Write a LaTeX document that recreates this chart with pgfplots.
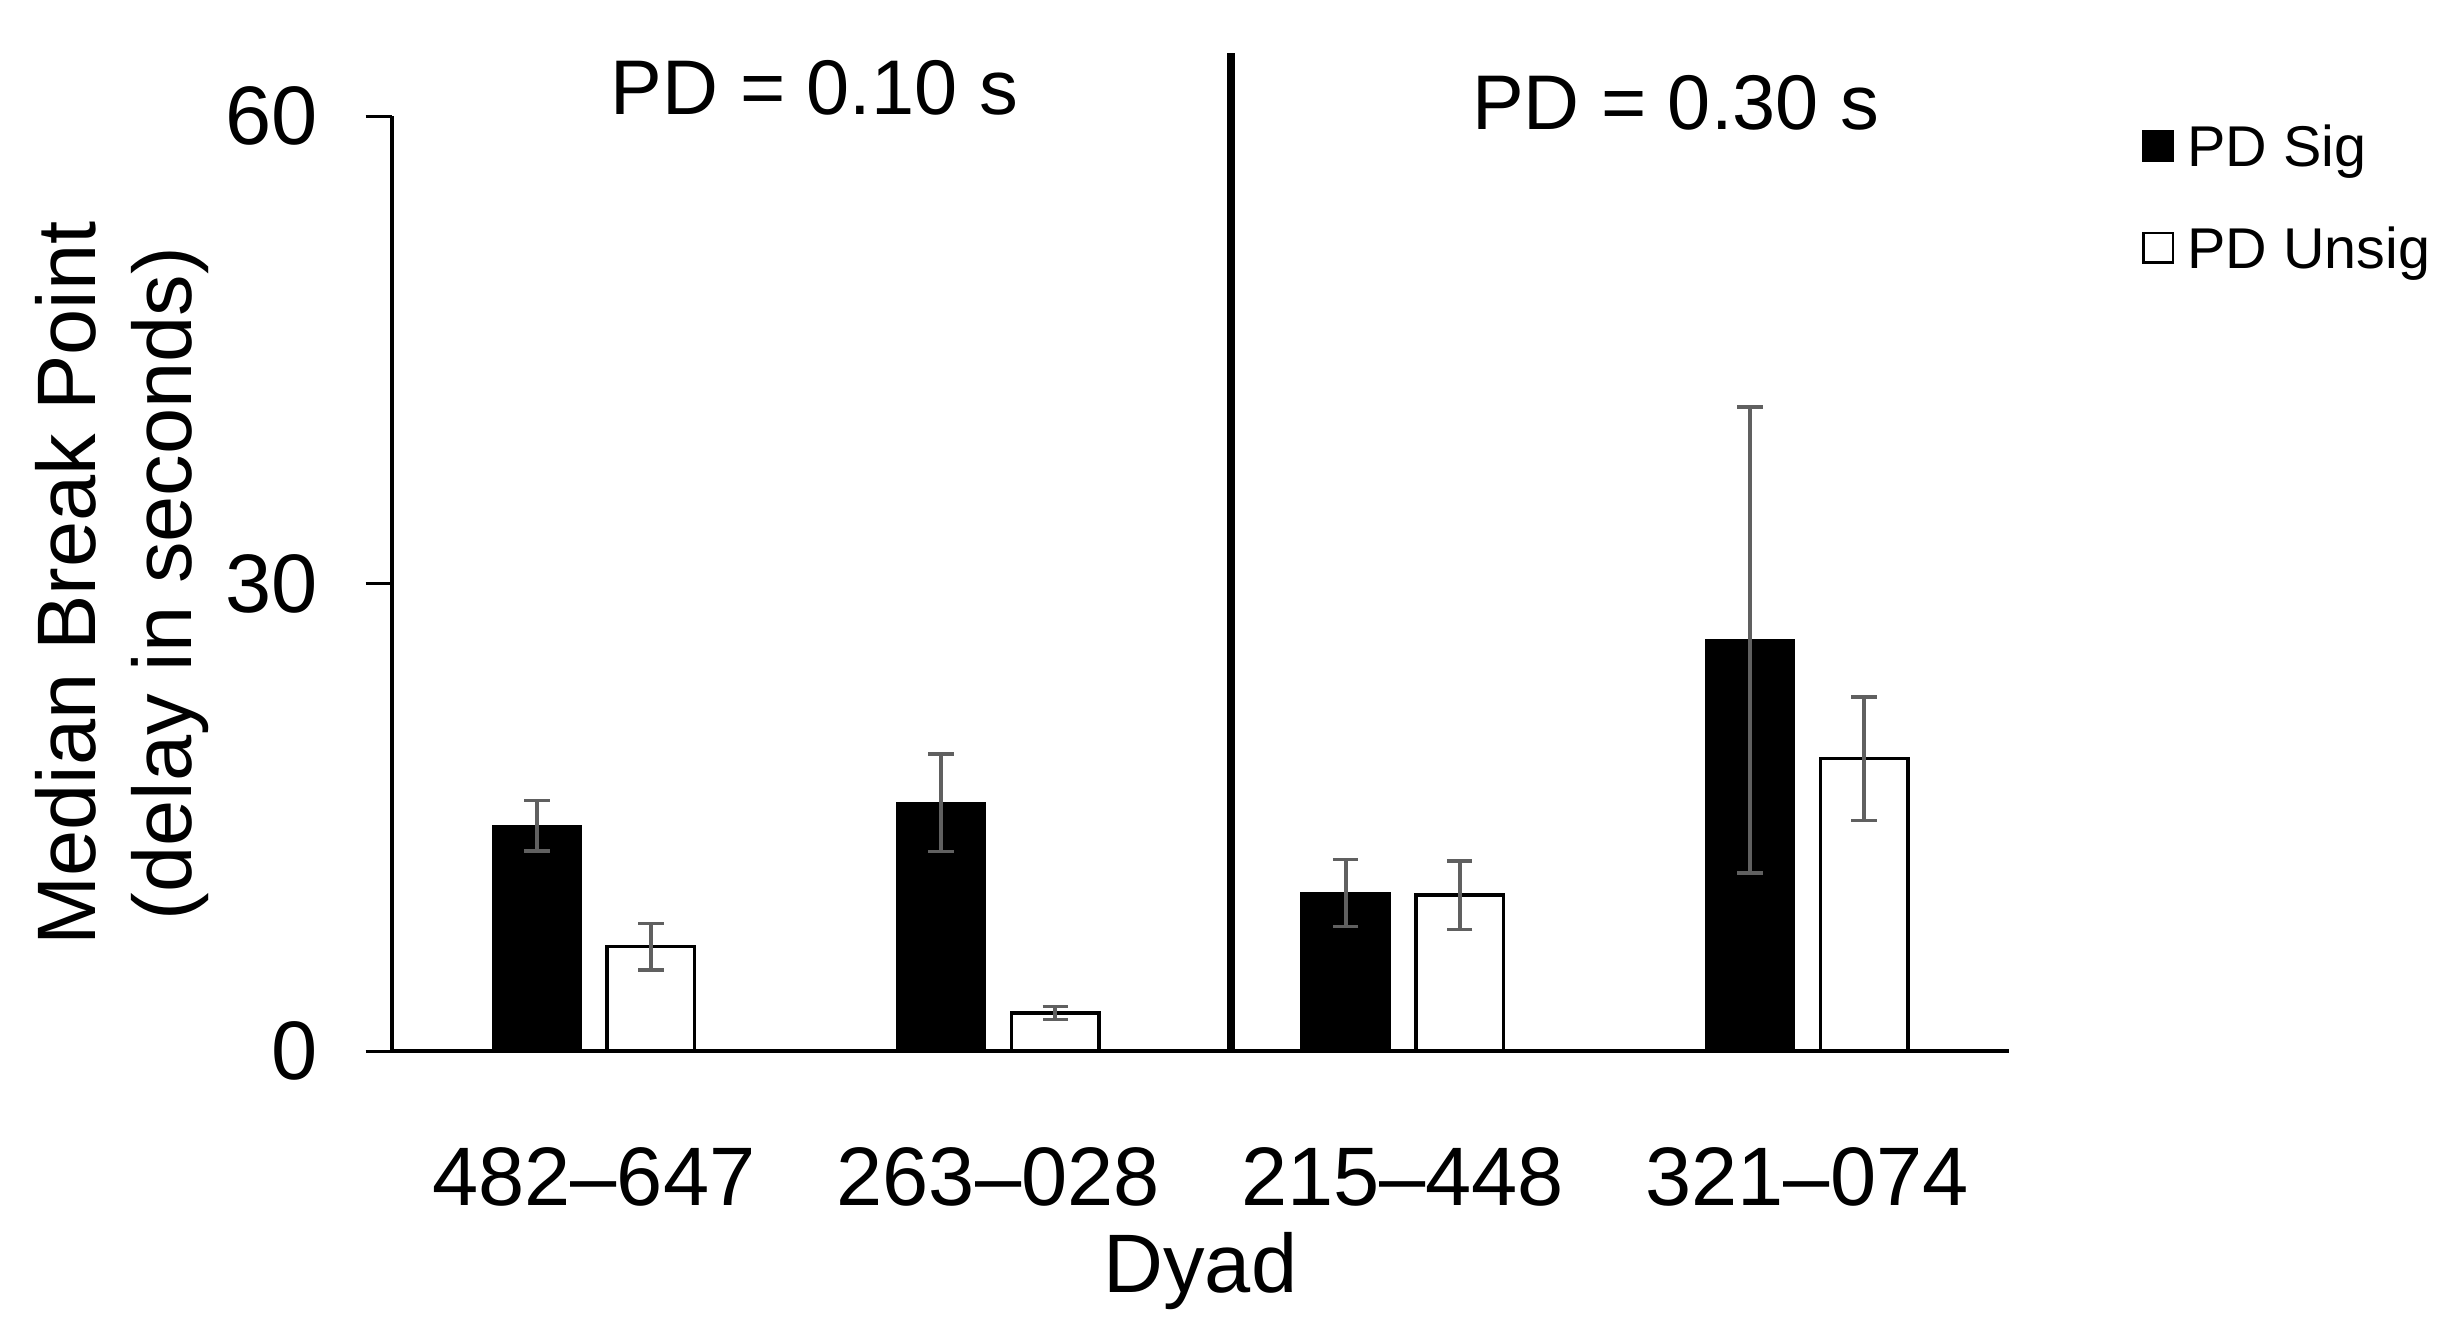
\documentclass[border=0pt]{standalone}
\usepackage{fontspec}
\setmainfont{Liberation Sans}
\usepackage{pgfplots}
\pgfplotsset{compat=1.18}
\definecolor{errgray}{RGB}{96,96,96}
\newcommand\mainsize{\fontsize{16.6}{19.3}\selectfont}
\pgfplotsset{
  errstyle/.style={
    error bars/.cd, y dir=both, y explicit,
    error bar style={line width=0.8pt, errgray},
    error mark options={rotate=90, mark size=2.55pt, line width=0.67pt, errgray}},
}
% Bars sit at category +/- 0.141 (two bars per dyad)
\begin{document}
\begin{tikzpicture}
\begin{axis}[
  at={(0,0)}, anchor=south west,
  scale only axis, width=323.5pt, height=187pt,
  xmin=0.5, xmax=4.5, ymin=0, ymax=60,
  clip=false,
  axis x line*=bottom, axis y line*=left,
  axis line style={-, line width=0.8pt, black},
  xtick={1,2,3,4},
  xticklabels={482–647, 263–028, 215–448, 321–074},
  x tick style={draw=none},
  ytick={0,30,60},
  y tick style={line width=0.6pt, black},
  tick align=outside, major tick length=5.2pt,
  /pgf/number format/assume math mode=true,
  tick label style={font=\mainsize},
  xticklabel style={anchor=base, inner sep=0pt, yshift=-25.66pt},
  yticklabel style={anchor=east, inner sep=0pt, xshift=-9.4pt},
  xlabel={Dyad},
  ylabel={Median Break Point\\(delay in seconds)},
  xlabel style={at={(axis description cs:0.5,0)}, anchor=base, inner sep=0pt, yshift=-48.3pt, font=\mainsize},
  ylabel style={at={(axis description cs:-0.1122,0.5)}, anchor=south, inner sep=0pt, align=center, font=\mainsize},
  legend style={at={(1.0821,0.9902)}, anchor=north west, draw=none, fill=none,
    inner sep=0pt, outer sep=0pt, font=\fontsize{11.5}{13}\selectfont,
    row sep=9.6pt, column sep=2.7pt,
    nodes={inner sep=0pt, text height=8.3pt, text depth=2.5pt}},
  legend cell align=left,
  legend image code/.code={\draw[#1, line width=0.5pt] (0pt,-1.7pt) rectangle (5.9pt,4.2pt);},
]
% PD Sig
\addplot[ybar, bar width=17.8pt, bar shift=0pt, fill=black, draw=black, line width=0.3pt, errstyle]
  coordinates {(0.859,14.46) +- (0,1.63) (1.859,15.92) +- (0,3.13) (2.859,10.15) +- (0,2.15) (3.859,26.37) +- (0,14.95)};
% PD Unsig
\addplot[ybar, bar width=17.5pt, bar shift=0pt, fill=white, draw=black, line width=0.7pt, errstyle]
  coordinates {(1.141,6.7) +- (0,1.49) (2.141,2.44) +- (0,0.41) (3.141,10.0) +- (0,2.19) (4.141,18.76) +- (0,3.95)};
\legend{PD Sig, PD Unsig}
% divider between the two PD conditions
\addplot[black, line width=1.66pt, mark=none, forget plot] coordinates {(2.576,0) (2.576,64.04)};
\node[anchor=base, inner sep=0pt, font=\fontsize{15.5}{18}\selectfont] at (axis cs:1.5455,60.08) {PD = 0.10 s};
\node[anchor=base, inner sep=0pt, font=\fontsize{15.5}{18}\selectfont] at (axis cs:3.675,59.11) {PD = 0.30 s};
\end{axis}
\pgfresetboundingbox
\useasboundingbox (-78.34pt,-58.2pt) rectangle (413.86pt,210.2pt);
\end{tikzpicture}
\end{document}
